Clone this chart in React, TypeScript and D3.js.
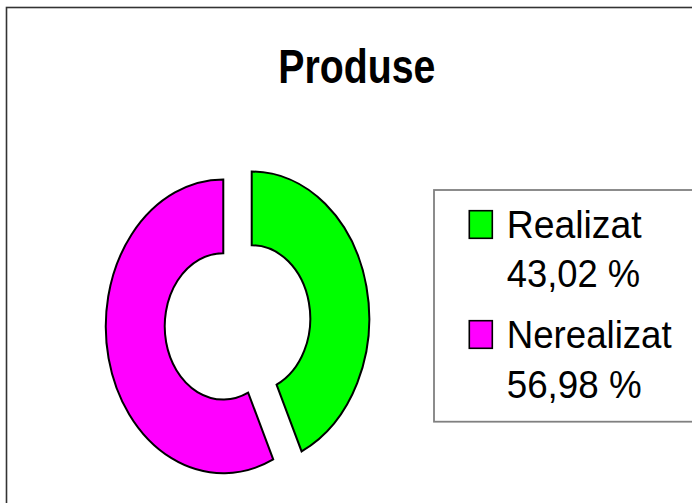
import { useMemo } from 'react';
import * as d3 from 'd3';

// chart data
const categories = ['Realizat', 'Nerealizat'];
const percents = [43.02, 56.98];
const colors = ['#00ff00', '#ff00ff'];
const title = 'Produse';

const W = 692;
const H = 503;

// donut geometry (picture is squeezed horizontally by 0.8)
const cx = 237.5;
const cy = 322.4;
const rOuter = 146.9;
const rInner = 73.2;
const xScale = 0.8;
const explode = 18.2;

const fmt = (v: number) => d3.format('.2f')(v).replace('.', ',') + ' %';

export default function App() {
  const arcs = useMemo(() => {
    const pie = d3.pie<number>().sort(null).value(d => d).startAngle(0).endAngle(2 * Math.PI);
    return pie(percents);
  }, []);

  const arcGen = d3.arc<d3.PieArcDatum<number>>().innerRadius(rInner).outerRadius(rOuter);

  // legend rows
  const legendX = 469.3;
  const textX = 506.7;
  const rowY = d3.scaleLinear().domain([0, 1]).range([238.3, 348.3]);
  const labelLen = [135, 165];
  const valueLen = [133.5, 135];

  return (
    <svg
      width={W}
      height={H}
      style={{ position: 'absolute', left: 0, top: 0, background: '#fff' }}
      fontFamily="'Liberation Sans', Arial, sans-serif"
    >
      {/* outer frame */}
      <rect x={6.5} y={7.5} width={W + 20} height={H + 20} fill="none" stroke="#333" strokeWidth={1.6} />

      <text
        x={278.3}
        y={83.3}
        fontSize={49}
        fontWeight="bold"
        textLength={157}
        lengthAdjust="spacingAndGlyphs"
        fill="#000"
      >
        {title}
      </text>

      {/* donut */}
      <g transform={`translate(${cx},${cy}) scale(${xScale},1)`}>
        {arcs.map((a, i) => {
          const mid = (a.startAngle + a.endAngle) / 2;
          const dx = Math.sin(mid) * explode;
          const dy = -Math.cos(mid) * explode;
          return (
            <path
              key={categories[i]}
              d={arcGen(a) || ''}
              transform={`translate(${dx},${dy})`}
              fill={colors[i]}
              stroke="#000"
              strokeWidth={2}
              vectorEffect="non-scaling-stroke"
            />
          );
        })}
      </g>

      {/* legend */}
      <rect x={434} y={190} width={300} height={231.7} fill="#fff" stroke="#808080" strokeWidth={1.8} />
      {categories.map((c, i) => {
        const by = rowY(i);
        return (
          <g key={c}>
            <rect
              x={legendX}
              y={by - 27.6}
              width={23}
              height={27.6}
              fill={colors[i]}
              stroke="#000"
              strokeWidth={1.6}
            />
            <text x={textX} y={by} fontSize={38} textLength={labelLen[i]} lengthAdjust="spacingAndGlyphs" fill="#000">
              {c}
            </text>
            <text
              x={textX}
              y={by + (i === 0 ? 48.4 : 50)}
              fontSize={38}
              textLength={valueLen[i]}
              lengthAdjust="spacingAndGlyphs"
              fill="#000"
            >
              {fmt(percents[i])}
            </text>
          </g>
        );
      })}
    </svg>
  );
}
